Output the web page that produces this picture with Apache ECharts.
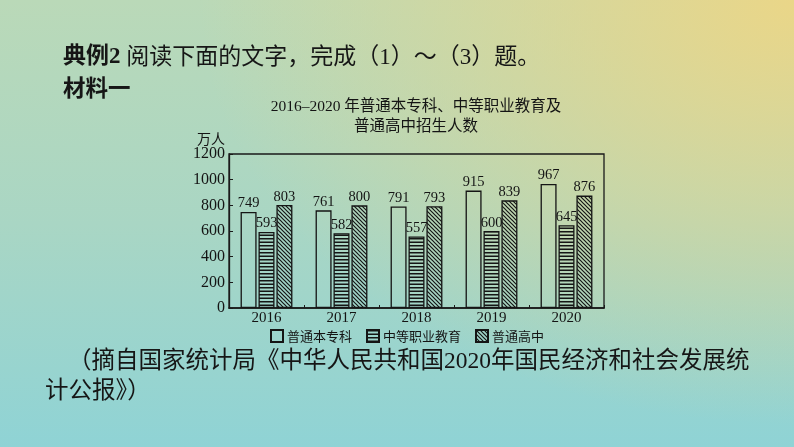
<!DOCTYPE html>
<html>
<head>
<meta charset="utf-8">
<script src="https://cdn.jsdelivr.net/npm/echarts@6/dist/echarts.min.js"></script>
<style>
html,body{margin:0;padding:0;width:794px;height:447px;overflow:hidden;}
body{background:
  radial-gradient(ellipse 75% 95% at 100% 0%, rgba(234,214,136,1) 0%, rgba(234,214,136,0.55) 45%, rgba(234,214,136,0) 100%),
  linear-gradient(to bottom, #bad9b8 0%, #a9d6c4 50%, #8fd3d5 100%);}
#main{width:794px;height:447px;}
</style>
</head>
<body>
<div id="main"></div>
<script>
// ---- data ----
const years = ['2016', '2017', '2018', '2019', '2020'];
const seriesNames = ['普通本专科', '中等职业教育', '普通高中'];
const undergrad = [749, 761, 791, 915, 967];
const vocational = [593, 582, 557, 600, 645];
const highSchool = [803, 800, 793, 839, 876];
const yTicks = { min: 0, max: 1200, interval: 200 };

const titleText = '2016–2020 年普通本专科、中等职业教育及\n普通高中招生人数';
const unitText = '万人';
const headLine1Bold = '典例2';
const headLine1Rest = ' 阅读下面的文字，完成（1）～（3）题。';
const headLine2 = '材料一';
const sourceLine1 = '（摘自国家统计局《中华人民共和国2020年国民经济和社会发展统';
const sourceLine2 = '计公报》）';

// ---- patterns ----
function hStripe() {
  const c = document.createElement('canvas');
  c.width = 4; c.height = 7;
  const ctx = c.getContext('2d');
  ctx.fillStyle = '#151515';
  ctx.fillRect(0, 0, 4, 1.5);
  ctx.fillRect(0, 3.5, 4, 1.5);
  return c;
}
function dStripe() {
  const s = 4;
  const c = document.createElement('canvas');
  c.width = s; c.height = s;
  const ctx = c.getContext('2d');
  ctx.strokeStyle = '#151515';
  ctx.lineWidth = 1.2;
  ctx.beginPath();
  for (let k = -1; k <= 1; k++) {
    ctx.moveTo(k * s - 1, -1);
    ctx.lineTo(k * s + s + 1, s + 1);
  }
  ctx.stroke();
  return c;
}
const fills = [
  'rgba(0,0,0,0)',
  { image: hStripe(), repeat: 'repeat' },
  { image: dStripe(), repeat: 'repeat' }
];
const dataSets = [undergrad, vocational, highSchool];

const serif = '"Liberation Serif", "Noto Sans CJK SC", serif';
const cjk = '"Noto Sans CJK SC", sans-serif';
const mixed = '"Liberation Serif", "Noto Sans CJK SC", serif';

const chart = echarts.init(document.getElementById('main'), null, { renderer: 'canvas' });
chart.setOption({
  backgroundColor: 'transparent',
  animation: false,
  title: {
    text: titleText,
    left: 416,
    top: 97,
    textAlign: 'center',
    padding: 0,
    textStyle: { fontFamily: mixed, fontSize: 15.5, fontWeight: 'normal', color: '#141414', lineHeight: 20 }
  },
  graphic: [
    {
      type: 'text', left: 63, top: 46,
      style: {
        text: '{b|' + headLine1Bold + '}{r|' + headLine1Rest + '}',
        rich: {
          b: { fontFamily: mixed, fontSize: 23, fontWeight: 'bold', fill: '#161616' },
          r: { fontFamily: mixed, fontSize: 23, fill: '#161616' }
        }
      }
    },
    {
      type: 'text', left: 63, top: 76,
      style: { text: headLine2, fontFamily: cjk, fontSize: 22.5, fontWeight: 'bold', fill: '#161616' }
    },
    {
      type: 'text', left: 68, top: 350,
      style: { text: sourceLine1, fontFamily: mixed, fontSize: 23.5, fill: '#161616' }
    },
    {
      type: 'text', left: 45, top: 380,
      style: { text: sourceLine2, fontFamily: mixed, fontSize: 23.5, fill: '#161616' }
    }
  ],
  legend: {
    left: 270,
    top: 329,
    padding: 0,
    itemWidth: 12,
    itemHeight: 12,
    itemGap: 14,
    icon: 'rect',
    textStyle: { fontFamily: cjk, fontSize: 13, color: '#141414', padding: [0, 0, 0, -1] },
    data: seriesNames
  },
  grid: {
    left: 229, right: 190, top: 154, height: 154,
    show: true, borderColor: '#1a1a1a', borderWidth: 1.3, backgroundColor: 'transparent'
  },
  xAxis: {
    type: 'category',
    data: years,
    axisLine: { lineStyle: { color: '#1a1a1a', width: 1.6 } },
    axisTick: { show: true, inside: true, length: 3, lineStyle: { color: '#1a1a1a' } },
    axisLabel: { fontFamily: serif, fontSize: 15, color: '#141414', margin: 3 }
  },
  yAxis: {
    type: 'value',
    min: yTicks.min, max: yTicks.max, interval: yTicks.interval,
    name: unitText,
    nameLocation: 'end',
    nameGap: 7,
    nameTextStyle: { fontFamily: cjk, fontSize: 14, color: '#141414', align: 'right', padding: [0, 4, 0, 0] },
    axisLine: { show: true, lineStyle: { color: '#1a1a1a', width: 1.3 } },
    axisTick: { show: true, inside: true, length: 4, lineStyle: { color: '#1a1a1a' } },
    axisLabel: { fontFamily: serif, fontSize: 16, color: '#141414', margin: 4, formatter: v => String(v) },
    splitLine: { show: false }
  },
  series: seriesNames.map((name, i) => ({
    name: name,
    type: 'bar',
    data: dataSets[i],
    barWidth: 16,
    barGap: '12%',
    itemStyle: { color: fills[i], borderColor: '#151515', borderWidth: 1.3 },
    label: {
      show: true, position: 'top', distance: 1,
      fontFamily: serif, fontSize: 14.5, color: '#141414'
    }
  }))
});
</script>
</body>
</html>
